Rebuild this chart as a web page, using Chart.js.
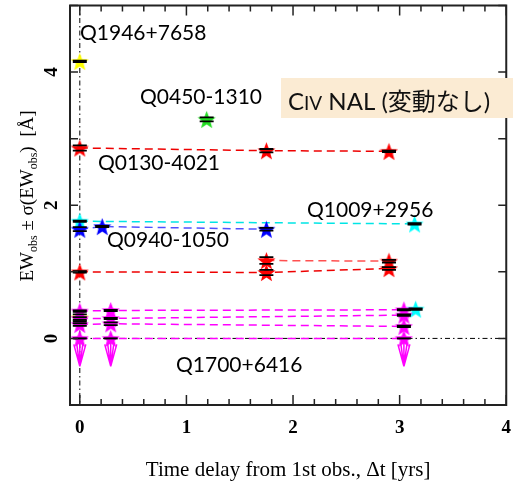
<!DOCTYPE html>
<html>
<head>
<meta charset="utf-8">
<script src="https://cdn.jsdelivr.net/npm/chart.js@4.4.1/dist/chart.umd.min.js"></script>
<style>
html, body { margin: 0; padding: 0; background: #fff; }
#wrap { width: 523px; height: 485px; }
</style>
</head>
<body>
<div id="wrap"><canvas id="chart" width="523" height="485"></canvas></div>
<script>
// CIV NAL - EW vs time delay (no variation sample)

const xTicks = [0, 1, 2, 3, 4];
const yTicks = [-1, 0, 1, 2, 3, 4, 5];
const yTickLabels = [0, 2, 4];

// time delay [yrs], EW [A], 1 sigma error
const q1946X = [0];
const q1946Y = [4.16];
const q1946Err = [0.01];

const q0450X = [1.19];
const q0450Y = [3.29];
const q0450Err = [0.03];

const q0130X = [0, 1.75, 2.9];
const q0130Y = [2.86, 2.82, 2.81];
const q0130Err = [0.04, 0.025, 0.01];

const q1009X = [0, 3.14];
const q1009Y = [1.76, 1.72];
const q1009Err = [0.01, 0.01];

const q0940X = [0, 0.21, 1.75];
const q0940Y = [1.64, 1.68, 1.64];
const q0940Err = [0.03, 0.01, 0.02];

const redAX = [0, 1.75, 2.9];
const redAY = [1.0, 0.99, 1.05];
const redAErr = [0.01, 0.04, 0.02];

const redBX = [1.75, 2.9];
const redBY = [1.17, 1.16];
const redBErr = [0.05, 0.02];

const yellowLowX = [0];
const yellowLowY = [0.31];
const yellowLowErr = [0.05];

const cyanLowX = [3.15];
const cyanLowY = [0.44];
const cyanLowErr = [0.01];

const mag1X = [0, 0.29, 3.04];
const mag1Y = [0.41, 0.42, 0.43];
const mag1Err = [0.01, 0.01, 0.01];

const mag2X = [0, 0.29, 3.04];
const mag2Y = [0.30, 0.30, 0.35];
const mag2Err = [0.02, 0.01, 0.01];

const mag3X = [0, 0.29, 3.04];
const mag3Y = [0.21, 0.22, 0.18];
const mag3Err = [0.02, 0.02, 0.01];

// Q1700+6416 upper limits
const q1700X = [0, 0.29, 3.04];
const q1700Y = [0, 0, 0];
const q1700Err = [0, 0, 0];

const series = [
    { x: q0130X, y: q0130Y, err: q0130Err, color: '#ff0000', line: '#ee0000' },
    { x: redAX, y: redAY, err: redAErr, color: '#ff0000', line: '#ee0000' },
    { x: redBX, y: redBY, err: redBErr, color: '#ff0000', line: '#ff5050' },
    { x: q0940X, y: q0940Y, err: q0940Err, color: '#0000ff', line: '#5050ff' },
    { x: q1009X, y: q1009Y, err: q1009Err, color: '#00ffff', line: '#00e5e5' },
    { x: mag1X, y: mag1Y, err: mag1Err, color: '#ff00ff', line: '#ff00ff' },
    { x: mag2X, y: mag2Y, err: mag2Err, color: '#ff00ff', line: '#ff00ff' },
    { x: mag3X, y: mag3Y, err: mag3Err, color: '#ff00ff', line: '#ff00ff' },
    { x: q1700X, y: q1700Y, err: q1700Err, color: '#ff00ff', line: '#ff00ff', limit: true },
    { x: q1946X, y: q1946Y, err: q1946Err, color: '#ffff00' },
    { x: yellowLowX, y: yellowLowY, err: yellowLowErr, color: '#ffff00' },
    { x: q0450X, y: q0450Y, err: q0450Err, color: '#22dd22' },
    { x: cyanLowX, y: cyanLowY, err: cyanLowErr, color: '#00ffff' }
];

const labels = [
    { text: 'Q1946+7658', x: 80, y: 33 },
    { text: 'Q0450-1310', x: 140, y: 97 },
    { text: 'Q0130-4021', x: 98, y: 163 },
    { text: 'Q1009+2956', x: 307, y: 210 },
    { text: 'Q0940-1050', x: 107, y: 240 },
    { text: 'Q1700+6416', x: 176, y: 365 }
];

const labelFont = 'Lato, "Noto Sans CJK JP", sans-serif';
const serif = '"Liberation Serif", serif';

function starImage(color, size) {
    const c = document.createElement('canvas');
    c.width = size;
    c.height = size;
    const g = c.getContext('2d');
    const r = size / 2, ri = r * 0.42;
    const cy = r * 1.1;
    g.beginPath();
    for (let i = 0; i < 10; i++) {
        const a = -Math.PI / 2 + i * Math.PI / 5;
        const rr = i % 2 ? ri : r;
        g.lineTo(r + rr * Math.cos(a), cy + rr * Math.sin(a));
    }
    g.closePath();
    g.fillStyle = color;
    g.fill();
    return c;
}

const datasets = series.map(s => ({
    data: s.x.map((v, i) => ({ x: v, y: s.y[i] })),
    errors: s.err,
    limit: !!s.limit,
    showLine: !!s.line,
    borderColor: s.line || s.color,
    borderWidth: 1.5,
    borderDash: [8, 5],
    pointStyle: starImage(s.color, 19),
    backgroundColor: s.color
}));

// dash-dot reference lines at x=0 and y=0
const refLines = {
    id: 'refLines',
    beforeDatasetsDraw(chart) {
        const { ctx, chartArea: a, scales: { x, y } } = chart;
        ctx.save();
        ctx.strokeStyle = '#000';
        ctx.lineWidth = 1;
        ctx.setLineDash([5, 3, 1.5, 3]);
        const x0 = x.getPixelForValue(0);
        ctx.beginPath();
        ctx.moveTo(x0, a.top);
        ctx.lineTo(x0, a.bottom);
        ctx.stroke();
        const y0 = y.getPixelForValue(0);
        ctx.beginPath();
        ctx.moveTo(a.left, y0);
        ctx.lineTo(a.right, y0);
        ctx.stroke();
        ctx.restore();
    }
};

// error bar ticks and upper limit arrows
const errorBars = {
    id: 'errorBars',
    afterDatasetsDraw(chart) {
        const { ctx, scales: { x, y } } = chart;
        ctx.save();
        chart.data.datasets.forEach(ds => {
            ds.data.forEach((p, i) => {
                const px = x.getPixelForValue(p.x);
                if (ds.limit) {
                    const py = y.getPixelForValue(p.y);
                    ctx.strokeStyle = '#ff00ff';
                    ctx.lineWidth = 1.5;
                    ctx.beginPath();
                    ctx.moveTo(px, py);
                    ctx.lineTo(px, py + 28);
                    [-6, -3, 3, 6].forEach(d => {
                        ctx.moveTo(px + d, py + 6);
                        ctx.lineTo(px, py + 28);
                    });
                    ctx.stroke();
                    ctx.strokeStyle = '#000';
                    ctx.lineWidth = 2;
                    ctx.beginPath();
                    ctx.moveTo(px - 7, py);
                    ctx.lineTo(px + 7, py);
                    ctx.stroke();
                    return;
                }
                const e = ds.errors[i];
                ctx.strokeStyle = '#000';
                ctx.lineWidth = 1.8;
                ctx.beginPath();
                [p.y - e, p.y + e].forEach(v => {
                    const py = y.getPixelForValue(v);
                    ctx.moveTo(px - 7, py);
                    ctx.lineTo(px + 7, py);
                });
                ctx.stroke();
            });
        });
        ctx.restore();
    }
};

// frame, inward ticks, y labels, annotations
const decor = {
    id: 'decor',
    afterDraw(chart) {
        const { ctx, chartArea: a, scales: { x, y } } = chart;
        ctx.save();
        ctx.strokeStyle = '#222';
        ctx.lineWidth = 1.5;
        ctx.beginPath();
        for (let v = 0; v <= 4.0001; v += 0.2) {
            const px = x.getPixelForValue(v);
            const major = Math.abs(v - Math.round(v)) < 0.001;
            const len = major ? 10 : 6;
            ctx.moveTo(px, a.bottom);
            ctx.lineTo(px, a.bottom - len);
            ctx.moveTo(px, a.top);
            ctx.lineTo(px, a.top + len);
        }
        yTicks.forEach(v => {
            const py = y.getPixelForValue(v);
            ctx.moveTo(a.left, py);
            ctx.lineTo(a.left + 8, py);
            ctx.moveTo(a.right, py);
            ctx.lineTo(a.right - 8, py);
        });
        ctx.stroke();
        ctx.lineWidth = 2;
        ctx.strokeRect(a.left, a.top, a.right - a.left, a.bottom - a.top);

        // y tick labels, rotated
        ctx.fillStyle = '#000';
        ctx.font = 'bold 19px ' + serif;
        ctx.textAlign = 'center';
        ctx.textBaseline = 'middle';
        yTickLabels.forEach(v => {
            ctx.save();
            ctx.translate(52, y.getPixelForValue(v));
            ctx.rotate(-Math.PI / 2);
            ctx.fillText(String(v), 0, 0);
            ctx.restore();
        });

        // y axis title with subscripts
        const parts = [
            { t: 'EW', s: 19 }, { t: 'obs', s: 12, sub: true },
            { t: ' \u00b1 \u03c3(EW', s: 19 }, { t: 'obs', s: 12, sub: true },
            { t: ')  [\u00c5]', s: 19 }
        ];
        let total = 0;
        parts.forEach(p => { ctx.font = p.s + 'px ' + serif; p.w = ctx.measureText(p.t).width; total += p.w; });
        ctx.save();
        ctx.translate(33, 196);
        ctx.rotate(-Math.PI / 2);
        ctx.textAlign = 'left';
        ctx.textBaseline = 'alphabetic';
        let cx = -total / 2;
        parts.forEach(p => {
            ctx.font = p.s + 'px ' + serif;
            ctx.fillText(p.t, cx, p.sub ? 4 : 0);
            cx += p.w;
        });
        ctx.restore();

        // quasar labels
        ctx.font = '21px ' + labelFont;
        ctx.textAlign = 'left';
        ctx.textBaseline = 'alphabetic';
        labels.forEach(l => ctx.fillText(l.text, l.x, l.y + 7));

        // title box
        ctx.fillStyle = '#fbebd3';
        ctx.fillRect(281, 78, 232, 40);
        ctx.fillStyle = '#111';
        let tx = 288;
        [['C', 24], ['IV', 19], [' NAL (\u5909\u52d5\u306a\u3057)', 24]].forEach(([t, s]) => {
            ctx.font = s + 'px ' + labelFont;
            ctx.fillText(t, tx, 110);
            tx += ctx.measureText(t).width;
        });
        ctx.restore();
    }
};

new Chart(document.getElementById('chart'), {
    type: 'scatter',
    data: { datasets },
    options: {
        responsive: false,
        animation: false,
        layout: { padding: { top: 5, right: 9, left: 0, bottom: 0 } },
        plugins: { legend: { display: false }, tooltip: { enabled: false } },
        scales: {
            x: {
                type: 'linear',
                min: -0.092,
                max: 4,
                afterBuildTicks: s => { s.ticks = xTicks.map(v => ({ value: v })); },
                afterFit: s => { s.height = 80; },
                grid: { display: false, drawTicks: false },
                border: { display: false },
                ticks: {
                    padding: 12,
                    color: '#000',
                    font: { family: serif, size: 19, weight: 'bold' }
                },
                title: {
                    display: true,
                    text: 'Time delay from 1st obs., \u0394t [yrs]',
                    color: '#000',
                    font: { family: serif, size: 21 },
                    padding: { top: 0, bottom: 2 }
                }
            },
            y: {
                type: 'linear',
                min: -1,
                max: 5,
                afterFit: s => { s.width = 70; },
                grid: { display: false, drawTicks: false },
                border: { display: false },
                ticks: { display: false }
            }
        }
    },
    plugins: [refLines, errorBars, decor]
});
</script>
</body>
</html>
